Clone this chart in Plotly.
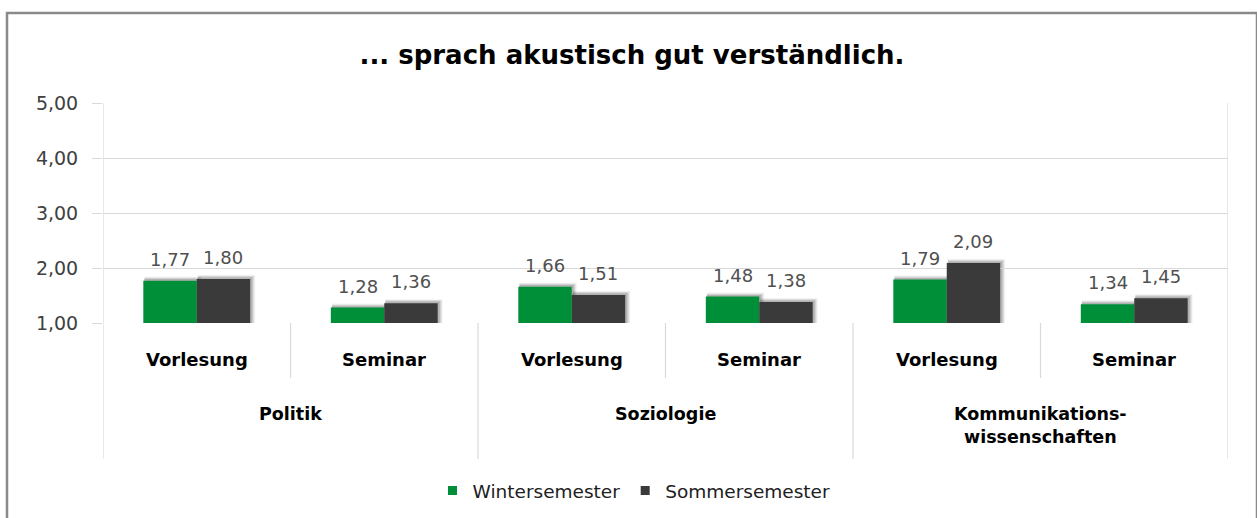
import plotly.graph_objects as go

title = "... sprach akustisch gut verständlich."
groups = ["Politik", "Soziologie", "Kommunikations-<br>wissenschaften"]
subcats = ["Vorlesung", "Seminar"]
series_names = ["Wintersemester", "Sommersemester"]
winter = [1.77, 1.28, 1.66, 1.48, 1.79, 1.34]
sommer = [1.80, 1.36, 1.51, 1.38, 2.09, 1.45]
ytick_vals = [1, 2, 3, 4, 5]
ytick_text = ["1,00", "2,00", "3,00", "4,00", "5,00"]

colors = ["#008f39", "#3a3a3a"]
FONT = "'DejaVu Sans', Verdana, sans-serif"

W, H = 1257, 518
L, R, T, B = 103, 29, 103, 195
plot_h = H - T - B
plot_w = W - L - R
Y0 = 1.0  # axis minimum
BARGAP = 0.43


def py(pixel_y):
    return (H - B - pixel_y) / plot_h


def px(pixel_x):
    return (pixel_x - L) / plot_w


n = len(winter)
xs = list(range(n))
bar_w = (1 - BARGAP) / 2
x_per_px = n / plot_w
y_per_px = 4.0 / plot_h


def fmt(v):
    return f"{v:.2f}".replace(".", ",")


fig = go.Figure()
for name, vals, col in zip(series_names, [winter, sommer], colors):
    fig.add_trace(go.Bar(
        x=xs, y=vals, name=name, marker=dict(color=col, line=dict(width=0)),
        showlegend=False, hoverinfo="skip",
    ))
# legend entries with small square swatches
for name, col in zip(series_names, colors):
    fig.add_trace(go.Scatter(
        x=[None], y=[None], mode="markers", name=name,
        marker=dict(symbol="square", size=9, color=col),
    ))

shapes = []
line_col = "#d9d9d9"

# soft drop shadows behind each bar (derived from the data)
for i in range(n):
    for j, vals in enumerate([winter, sommer]):
        v = vals[i]
        x0 = i - bar_w + j * bar_w
        x1 = x0 + bar_w
        for k, op in [(5, 0.05), (4, 0.07), (3, 0.09), (2, 0.12)]:
            shapes.append(dict(
                type="rect", xref="x", yref="y", layer="below",
                x0=x0 + 1 * x_per_px, x1=x1 + k * x_per_px,
                y0=Y0, y1=v + k * 0.8 * y_per_px,
                line=dict(width=0), fillcolor=f"rgba(0,0,0,{op})"))

# vertical separators of the category axis
for i in range(n + 1):
    xv = i - 0.5
    y0 = py(459) if i % 2 == 0 else py(378)
    y1 = 1 if i in (0, n) else 0
    shapes.append(dict(type="line", xref="x", yref="paper", x0=xv, x1=xv,
                       y0=y0, y1=y1, line=dict(color=line_col, width=1.2)))
# outer chart border
shapes.append(dict(type="rect", xref="paper", yref="paper",
                   x0=px(7), x1=px(1257), y0=py(530), y1=py(13),
                   line=dict(color="#8a8a8a", width=2.5), layer="below"))

annotations = []
# value labels
for j, vals in enumerate([winter, sommer]):
    for i, v in enumerate(vals):
        annotations.append(dict(
            x=i - bar_w / 2 + j * bar_w, y=v, xref="x", yref="y",
            text=fmt(v), showarrow=False, yanchor="bottom", yshift=9,
            font=dict(family=FONT, size=18, color="#505050")))
for i in range(n):
    annotations.append(dict(x=i, y=py(359), xref="x", yref="paper",
                            text="<b>" + subcats[i % 2] + "</b>", showarrow=False,
                            font=dict(family=FONT, size=18, color="#000000"),
                            yanchor="middle"))
for g, name in enumerate(groups):
    annotations.append(dict(x=2 * g + 0.5, y=py(402), xref="x", yref="paper",
                            text="<b>" + name + "</b>", showarrow=False,
                            font=dict(family=FONT, size=17.5, color="#000000"),
                            yanchor="top"))

fig.update_layout(
    width=W, height=H,
    margin=dict(l=L, r=R, t=T, b=B),
    paper_bgcolor="white", plot_bgcolor="white",
    title=dict(text="<b>" + title + "</b>", x=632 / W, xref="container",
               xanchor="center", y=1 - 55 / H, yref="container", yanchor="middle",
               font=dict(family=FONT, size=26, color="#000000")),
    barmode="group", bargap=BARGAP, bargroupgap=0,
    xaxis=dict(range=[-0.5, n - 0.5], showticklabels=False, showgrid=False,
               zeroline=False, showline=False, ticks=""),
    yaxis=dict(range=[Y0, 5], tickvals=ytick_vals, ticktext=ytick_text,
               showgrid=True, gridcolor=line_col, gridwidth=1.2, zeroline=False,
               showline=False, ticks="outside", ticklen=10, tickcolor=line_col,
               ticklabelstandoff=10,
               tickfont=dict(family=FONT, size=19, color="#404040")),
    legend=dict(orientation="h", xref="container", yref="container",
                x=634 / W, xanchor="center", y=1 - 491 / H, yanchor="middle",
                font=dict(family=FONT, size=18.5, color="#202020"),
                itemwidth=30, traceorder="normal"),
    shapes=shapes, annotations=annotations,
    showlegend=True,
)

fig.write_html("out.html", config={"displayModeBar": False},
               post_script="document.body.style.margin='0';")
